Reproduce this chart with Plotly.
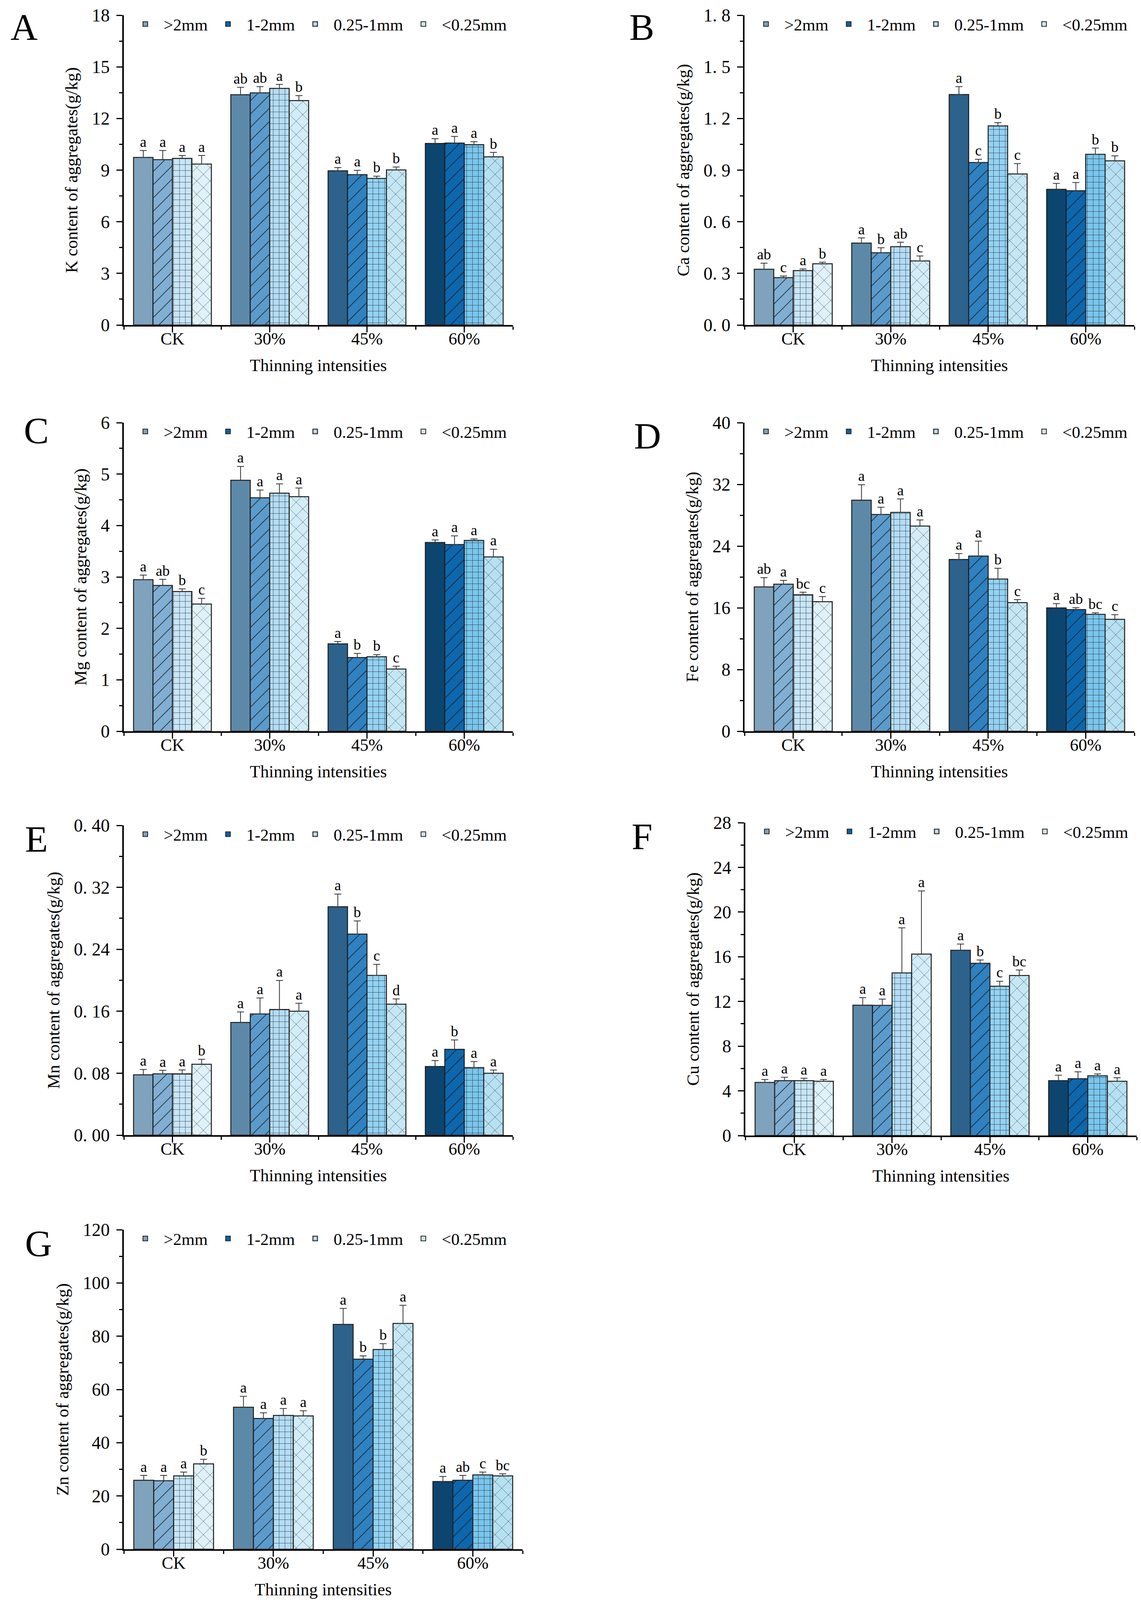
import plotly.graph_objects as go

W, H = 2921, 4122
FONT = "Liberation Serif, Times New Roman, serif"

GROUPS = ["CK", "30%", "45%", "60%"]
SIZES = [">2mm", "1-2mm", "0.25-1mm", "<0.25mm"]

# one row per aggregate size (SIZES order), columns follow GROUPS
K_MEAN = [[9.74, 13.38, 8.96, 10.55], [9.61, 13.49, 8.74, 10.57],
          [9.68, 13.75, 8.52, 10.48], [9.35, 13.04, 9.01, 9.77]]
K_ERR = [[0.40, 0.43, 0.19, 0.28], [0.53, 0.36, 0.25, 0.39],
         [0.17, 0.23, 0.13, 0.17], [0.50, 0.29, 0.17, 0.26]]
K_SIG = [["a", "ab", "a", "a"], ["a", "ab", "a", "a"],
         ["a", "a", "b", "a"], ["a", "b", "b", "b"]]

CA_MEAN = [[0.324, 0.476, 1.339, 0.788], [0.275, 0.420, 0.944, 0.780],
           [0.316, 0.455, 1.157, 0.992], [0.356, 0.372, 0.878, 0.954]]
CA_ERR = [[0.035, 0.030, 0.046, 0.035], [0.010, 0.029, 0.019, 0.048],
          [0.010, 0.026, 0.019, 0.036], [0.009, 0.029, 0.060, 0.029]]
CA_SIG = [["ab", "a", "a", "a"], ["c", "b", "c", "a"],
          ["a", "ab", "b", "b"], ["b", "c", "c", "b"]]

MG_MEAN = [[2.946, 4.88, 1.70, 3.67], [2.834, 4.54, 1.434, 3.63],
           [2.718, 4.63, 1.449, 3.71], [2.474, 4.56, 1.21, 3.39]]
MG_ERR = [[0.09, 0.27, 0.045, 0.05], [0.12, 0.15, 0.08, 0.17],
          [0.05, 0.18, 0.04, 0.03], [0.11, 0.17, 0.054, 0.15]]
MG_SIG = [["a", "a", "a", "a"], ["ab", "a", "b", "a"],
          ["b", "a", "b", "a"], ["c", "a", "c", "a"]]

FE_MEAN = [[18.71, 29.95, 22.26, 15.99], [19.06, 28.10, 22.71, 15.77],
           [17.70, 28.37, 19.74, 15.15], [16.80, 26.59, 16.67, 14.51]]
FE_ERR = [[1.2, 2.0, 0.78, 0.55], [0.5, 0.94, 1.94, 0.26],
          [0.32, 1.75, 1.39, 0.2], [0.65, 0.8, 0.39, 0.61]]
FE_SIG = [["ab", "a", "a", "a"], ["a", "a", "a", "ab"],
          ["bc", "a", "b", "bc"], ["c", "a", "c", "c"]]

MN_MEAN = [[0.0779, 0.1455, 0.2949, 0.0886], [0.0792, 0.1565, 0.2597, 0.1109],
           [0.0792, 0.1623, 0.2063, 0.0873], [0.0915, 0.1600, 0.1691, 0.0799]]
MN_ERR = [[0.007, 0.0136, 0.0165, 0.0078], [0.0045, 0.0207, 0.017, 0.012],
          [0.005, 0.0375, 0.0142, 0.0078], [0.0065, 0.0104, 0.0068, 0.0042]]
MN_SIG = [["a", "a", "a", "a"], ["a", "a", "b", "b"],
          ["a", "a", "c", "a"], ["b", "a", "d", "a"]]

CU_MEAN = [[4.75, 11.67, 16.58, 4.91], [4.91, 11.65, 15.42, 5.09],
           [4.91, 14.55, 13.36, 5.35], [4.86, 16.24, 14.32, 4.86]]
CU_ERR = [[0.27, 0.67, 0.56, 0.49], [0.31, 0.56, 0.29, 0.62],
          [0.22, 4.04, 0.45, 0.16], [0.16, 5.65, 0.49, 0.31]]
CU_SIG = [["a", "a", "a", "a"], ["a", "a", "b", "a"],
          ["a", "a", "c", "a"], ["a", "a", "bc", "a"]]

ZN_MEAN = [[25.90, 53.33, 84.41, 25.42], [25.71, 49.11, 71.37, 25.90],
           [27.53, 50.26, 75.01, 27.91], [32.04, 50.07, 84.80, 27.53]]
ZN_ERR = [[1.82, 4.12, 6.04, 1.92], [2.0, 2.11, 1.25, 1.82],
          [1.44, 2.59, 2.2, 1.06], [1.73, 1.92, 6.8, 0.77]]
ZN_SIG = [["a", "a", "a", "a"], ["a", "a", "b", "ab"],
          ["a", "a", "b", "c"], ["b", "a", "a", "bc"]]

# y ticks
K_TICKS = [0, 3, 6, 9, 12, 15, 18]
K_LABELS = ["0", "3", "6", "9", "12", "15", "18"]
CA_TICKS = [0, 0.3, 0.6, 0.9, 1.2, 1.5, 1.8]
CA_LABELS = ["0. 0", "0. 3", "0. 6", "0. 9", "1. 2", "1. 5", "1. 8"]
MG_TICKS = [0, 1, 2, 3, 4, 5, 6]
MG_LABELS = ["0", "1", "2", "3", "4", "5", "6"]
FE_TICKS = [0, 8, 16, 24, 32, 40]
FE_LABELS = ["0", "8", "16", "24", "32", "40"]
MN_TICKS = [0, 0.08, 0.16, 0.24, 0.32, 0.40]
MN_LABELS = ["0. 00", "0. 08", "0. 16", "0. 24", "0. 32", "0. 40"]
CU_TICKS = [0, 4, 8, 12, 16, 20, 24, 28]
CU_LABELS = ["0", "4", "8", "12", "16", "20", "24", "28"]
ZN_TICKS = [0, 20, 40, 60, 80, 100, 120]
ZN_LABELS = ["0", "20", "40", "60", "80", "100", "120"]

PANELS = [
    ("A", "K", K_MEAN, K_ERR, K_SIG, K_TICKS, K_LABELS),
    ("B", "Ca", CA_MEAN, CA_ERR, CA_SIG, CA_TICKS, CA_LABELS),
    ("C", "Mg", MG_MEAN, MG_ERR, MG_SIG, MG_TICKS, MG_LABELS),
    ("D", "Fe", FE_MEAN, FE_ERR, FE_SIG, FE_TICKS, FE_LABELS),
    ("E", "Mn", MN_MEAN, MN_ERR, MN_SIG, MN_TICKS, MN_LABELS),
    ("F", "Cu", CU_MEAN, CU_ERR, CU_SIG, CU_TICKS, CU_LABELS),
    ("G", "Zn", ZN_MEAN, ZN_ERR, ZN_SIG, ZN_TICKS, ZN_LABELS),
]

# plot boxes in pixels: x0, x1, top, bottom
BOXES = {
    "A": (309, 1305, 31, 824), "B": (1898, 2896, 31, 824),
    "C": (309, 1305, 1074, 1864), "D": (1898, 2896, 1074, 1864),
    "E": (309, 1305, 2105, 2898), "F": (1900, 2902, 2098, 2899),
    "G": (309, 1330, 3140, 3958),
}
LETTER_POS = {
    "A": (53, 61), "B": (1635, 61), "C": (85, 1094), "D": (1649, 1108),
    "E": (85, 2140), "F": (1635, 2133), "G": (90, 3175),
}

# fill colours darken from CK to 60%
FILL = [
    ["#7fa3bd", "#5d89a8", "#2c628b", "#0c4570"],
    ["#80afd3", "#5b9bcc", "#2f81c0", "#0d67ad"],
    ["#c7e6f8", "#b3ddf6", "#93d2f3", "#79c6ee"],
    ["#dff1f9", "#d2edf8", "#c5e7f5", "#b6e1f2"],
]
LEGEND_FILL = ["#7fa3bd", "#0d67ad", "#c7e6f8", "#dff1f9"]
SHAPES = ["", "/", "+", "x"]
PSIZE = [10, 24, 15, 24]
PSOLID = [0.1, 0.07, 0.1, 0.06]
BAR_W = 0.2
LINE = "#1f1f1f"


def pattern_for(k, color):
    if not SHAPES[k]:
        return None
    return dict(shape=SHAPES[k], fillmode="overlay", bgcolor=color,
                fgcolor="#1a1a1a", fgopacity=0.9,
                size=PSIZE[k], solidity=PSOLID[k])


fig = go.Figure()
layout = dict(
    template="none", width=W, height=H, autosize=False,
    margin=dict(l=0, r=0, t=0, b=0),
    paper_bgcolor="white", plot_bgcolor="white",
    barmode="overlay", font=dict(family=FONT, color="black"),
    annotations=[],
)

for i, (letter, elem, mean, err, sig, ticks, labels) in enumerate(PANELS):
    n = i + 1
    xa = "x" if n == 1 else f"x{n}"
    ya = "y" if n == 1 else f"y{n}"
    lg = "legend" if n == 1 else f"legend{n}"
    x0, x1, top, bot = BOXES[letter]

    for k, size in enumerate(SIZES):
        xs = [g + (k - 1.5) * BAR_W for g in range(len(GROUPS))]
        # one trace per bar so each gets its own colour under the hatch
        for g in range(len(GROUPS)):
            marker = dict(color=FILL[k][g], line=dict(color=LINE, width=2.5))
            pat = pattern_for(k, FILL[k][g])
            if pat:
                marker["pattern"] = pat
            fig.add_trace(go.Bar(
                x=[xs[g]], y=[mean[k][g]], width=BAR_W, xaxis=xa, yaxis=ya,
                marker=marker,
                error_y=dict(type="data", symmetric=False, array=[err[k][g]],
                             arrayminus=[0], color="#333333",
                             thickness=2, width=9),
                showlegend=False, hoverinfo="skip",
            ))
        fig.add_trace(go.Scatter(
            x=xs, y=[m + e for m, e in zip(mean[k], err[k])],
            xaxis=xa, yaxis=ya, mode="text", text=sig[k],
            textposition="top center",
            textfont=dict(family=FONT, size=38, color="black"),
            cliponaxis=False, showlegend=False, hoverinfo="skip",
        ))
        # legend entry in the legend colours
        lmarker = dict(color=LEGEND_FILL[k], line=dict(color=LINE, width=2))
        pat = pattern_for(k, LEGEND_FILL[k])
        if pat:
            lmarker["pattern"] = pat
        fig.add_trace(go.Bar(
            x=[None], y=[None], name=size, xaxis=xa, yaxis=ya, legend=lg,
            marker=lmarker,
        ))

    axis_common = dict(
        showline=True, linecolor="black", linewidth=3.5, ticks="outside",
        ticklen=15, tickwidth=3, tickcolor="black", showgrid=False,
        zeroline=False, automargin=False, fixedrange=True,
    )
    layout["xaxis" if n == 1 else f"xaxis{n}"] = dict(
        axis_common, domain=[x0 / W, x1 / W], anchor=ya, range=[-0.5, 3.5],
        tickmode="array", tickvals=list(range(len(GROUPS))), ticktext=GROUPS,
        tickfont=dict(family=FONT, size=44), ticklabelstandoff=-22,
        minor=dict(tick0=0.5, dtick=1, ticks="outside", ticklen=8,
                   tickwidth=3, tickcolor="black"),
        title=dict(text="Thinning intensities", standoff=30,
                   font=dict(family=FONT, size=44)),
    )
    step = ticks[1] - ticks[0]
    layout["yaxis" if n == 1 else f"yaxis{n}"] = dict(
        axis_common, domain=[1 - bot / H, 1 - top / H], anchor=xa,
        range=[0, ticks[-1]], tickmode="array", tickvals=ticks, ticktext=labels,
        tickfont=dict(family=FONT, size=46), ticklabelstandoff=8,
        minor=dict(tick0=0, dtick=step / 2, ticks="outside", ticklen=8,
                   tickwidth=3, tickcolor="black"),
        title=dict(text=f"{elem} content of aggregates(g/kg)", standoff=24,
                   font=dict(family=FONT, size=44)),
    )
    layout[lg] = dict(
        x=(x0 + 8) / W, y=1 - (top - 12) / H, xanchor="left", yanchor="top",
        orientation="h", font=dict(family=FONT, size=43, color="black"),
        itemwidth=84, bgcolor="rgba(0,0,0,0)", borderwidth=0,
    )
    lx, ly = LETTER_POS[letter]
    layout["annotations"].append(dict(
        text=letter, x=lx / W, y=1 - ly / H, xref="paper", yref="paper",
        showarrow=False, xanchor="center", yanchor="middle",
        font=dict(family=FONT, size=96, color="black"),
    ))

fig.update_layout(**layout)
fig.write_html("out.html")
